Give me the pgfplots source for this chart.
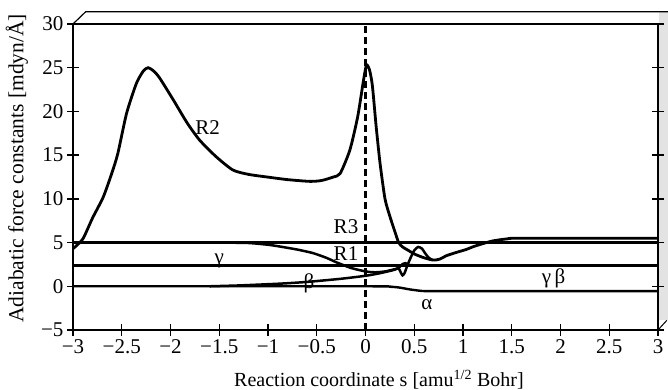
\documentclass[border=0pt]{standalone}
\usepackage{fontspec}
\setmainfont{Liberation Serif}
\usepackage{pgfplots}
\pgfplotsset{compat=1.18}
\begin{document}
\begin{tikzpicture}
\pgfplotsset{
  base/.style={
    width=585pt, height=306pt, scale only axis,
    xmin=-3, xmax=3, ymin=-5, ymax=30,
    clip=false,
  }
}
% minor ticks (inside)
\begin{axis}[base,
  axis line style={draw=none},
  xtick=\empty, ytick=\empty,
  minor xtick={-2.9,-2.8,...,2.95},
  minor ytick={-4,-3,...,29.5},
  xtick pos=left, ytick pos=both,
  tick align=inside, minor tick length=5pt,
  minor tick style={line width=1.3pt, black},
]
% scan shading at the right edge of the page
\fill[gray!22] (axis cs:3.015,-3.9) rectangle (axis cs:3.1,31.4);
\end{axis}
\begin{axis}[base,
  axis line style={line width=1.4pt},
  xtick={-3,-2.5,...,3},
  xticklabels={−3,−2.5,−2,−1.5,−1,−0.5,0,0.5,1,1.5,2,2.5,3},
  ytick={-5,0,...,30},
  yticklabels={−5,0,5,10,15,20,25,30},
  xtick pos=left, ytick pos=both,
  tick align=center, major tick length=12pt,
  major tick style={line width=1.4pt, black},
  tick label style={font=\fontsize{21}{25}\selectfont},
  xlabel={Reaction coordinate s [amu\textsuperscript{1/2} Bohr]},
  ylabel={Adiabatic force constants [mdyn/Å]},
  xlabel style={font=\fontsize{20}{24}\selectfont, at={(axis description cs:0.523,-0.186)}, anchor=base},
  ylabel style={font=\fontsize{21.5}{25}\selectfont, at={(axis description cs:-0.096,0.528)}, anchor=center},
]
% decoration of the book frame
\draw[line width=1.2pt] (axis cs:-3,30) -- (axis cs:-2.87,31.4) -- (axis cs:3.1,31.4);
\draw[line width=1.0pt] (axis cs:3,-5) -- (axis cs:3.09,-3.9);

% dashed line at s = 0
\addplot[line width=2.8pt, dash pattern=on 7pt off 4pt] coordinates {(0,-5) (0,30)};

% R3 and gamma (flat lines)
\addplot[line width=2.4pt] coordinates {(-3,5) (3,5)};
\addplot[line width=2.4pt] coordinates {(-3,2.4) (3,2.4)};

% alpha
\addplot[line width=2.4pt, smooth, tension=0.4] coordinates {
(-3,0) (0,0) (0.25,-0.05) (0.35,-0.15) (0.45,-0.35) (0.55,-0.5) (0.62,-0.55) (1,-0.55) (3,-0.55)};

% beta
\addplot[line width=2.5pt, smooth, tension=0.4] coordinates {
(-1.6,0) (-1.29,0.1) (-0.88,0.3) (-0.6,0.5) (-0.26,0.85) (0,1.2) (0.15,1.5) (0.3,1.9) (0.35,2.2) (0.38,2.55) (0.41,2.65) (0.44,2.45) (0.5,2.4) (0.7,2.4)};

% R1
\addplot[line width=2.5pt, smooth, tension=0.4] coordinates {
(-1.5,5.0) (-1.2,4.95) (-1.0,4.75) (-0.88,4.55) (-0.7,4.2) (-0.54,3.8) (-0.4,3.25) (-0.3,2.75) (-0.15,2.1) (0,1.7) (0.1,1.6) (0.2,1.7) (0.3,1.95) (0.34,2.05) (0.365,1.5) (0.38,1.25) (0.40,1.5) (0.43,2.4) (0.46,3.2) (0.5,4.1) (0.54,4.5) (0.58,4.3) (0.61,3.8) (0.65,3.25) (0.69,3.0)};

% R2
\addplot[line width=2.8pt, smooth, tension=0.4] coordinates {
(-3,4.3) (-2.9,5.4) (-2.8,7.8) (-2.69,10.2) (-2.6,13.0) (-2.54,15.2) (-2.45,19.8) (-2.35,23.2) (-2.28,24.6) (-2.23,25.0) (-2.17,24.6) (-2.11,23.8) (-1.97,21.3) (-1.83,18.7) (-1.70,16.7) (-1.53,14.8) (-1.36,13.3) (-1.2,12.8) (-1.01,12.5) (-0.8,12.2) (-0.57,12.0) (-0.45,12.1) (-0.33,12.5) (-0.26,12.9) (-0.16,15.6) (-0.08,19.4) (-0.02,23.6) (0.01,25.3) (0.04,24.8) (0.07,23.0) (0.11,18.2) (0.15,14.0) (0.2,10.0) (0.25,8.0) (0.3,6.3) (0.34,5.0) (0.38,4.5) (0.44,4.1) (0.5,3.7) (0.59,3.3) (0.69,3.0) (0.76,3.1) (0.83,3.5) (0.94,3.9) (1.03,4.2) (1.11,4.55) (1.21,4.9) (1.31,5.2) (1.45,5.42) (1.6,5.5) (3,5.5)};

% labels
\begin{scope}[font=\fontsize{21}{25}\selectfont]
\node[anchor=west] at (axis cs:-1.78,18.1) {R2};
\node at (axis cs:-0.2,6.8) {R3};
\node at (axis cs:-0.2,3.7) {R1};
\node at (axis cs:-1.5,2.9) {γ};
\node at (axis cs:-0.58,0.35) {β};
\node at (axis cs:0.63,-2.1) {α};
\node at (axis cs:1.93,0.9) {γ\,β};
\end{scope}
\end{axis}
\pgfresetboundingbox
\path (current axis.south west) ++(-73pt,-60pt) rectangle (current axis.north east) ++(10pt,24pt);
\end{tikzpicture}
\end{document}
